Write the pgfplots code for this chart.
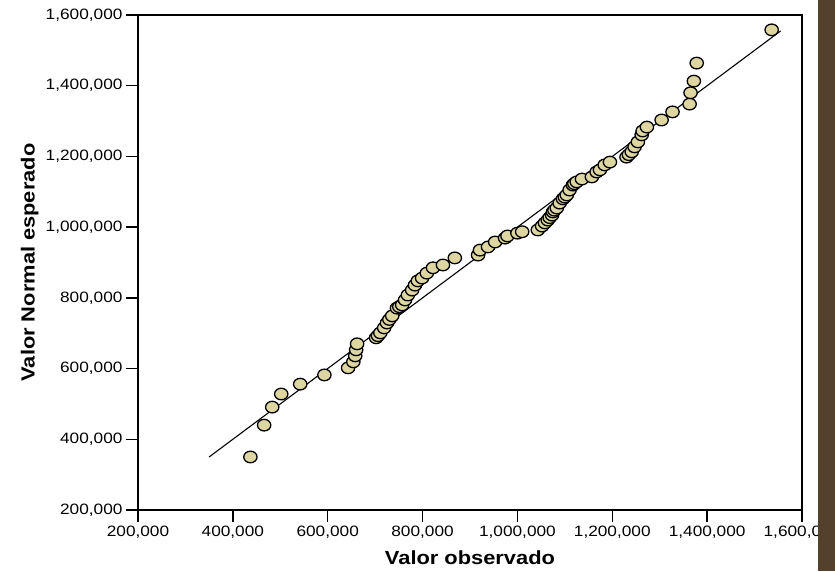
\documentclass[border=0pt]{standalone}
\usepackage{fontspec}
\setmainfont{Liberation Sans}[FakeStretch=1.15]
\usepackage{pgfplots}
\pgfplotsset{compat=1.18}
\definecolor{markfill}{RGB}{221,214,160}
\definecolor{sidebar}{RGB}{84,65,43}

% valor observado / valor normal esperado
\pgfplotstableread{
x y
437000 350000
466000 440000
483000 491000
502000 528000
542000 556000
593000 582000
643000 602000
654000 619000
658000 636000
660000 653000
662000 670000
702000 687000
706000 693000
711000 701000
719000 715000
725000 729000
730000 739000
736000 749000
746000 771000
751000 775000
757000 780000
763000 794000
769000 808000
778000 822000
784000 836000
790000 848000
799000 856000
809000 870000
822000 885000
843000 893000
868000 913000
917000 921000
921000 935000
938000 944000
953000 958000
974000 969000
979000 975000
1000000 983000
1010000 987000
1043000 992000
1052000 1003000
1058000 1012000
1064000 1020000
1068000 1027000
1073000 1034000
1075000 1043000
1078000 1048000
1083000 1054000
1089000 1068000
1096000 1080000
1100000 1085000
1104000 1091000
1110000 1105000
1117000 1119000
1120000 1123000
1125000 1128000
1136000 1136000
1157000 1142000
1167000 1156000
1174000 1162000
1184000 1176000
1195000 1184000
1230000 1198000
1235000 1205000
1241000 1213000
1247000 1227000
1254000 1241000
1262000 1261000
1264000 1272000
1273000 1283000
1304000 1303000
1327000 1326000
1363000 1348000
1365000 1380000
1372000 1413000
1378000 1464000
1536000 1558000
}\qqdata

\begin{document}
\begin{tikzpicture}
\path[use as bounding box] (-138pt,-61pt) rectangle (697pt,510pt);
\begin{axis}[
    at={(0,0)}, anchor=south west,
    scale only axis,
    width=664pt, height=495pt,
    xmin=200000, xmax=1600000,
    ymin=200000, ymax=1600000,
    xtick={200000,400000,600000,800000,1000000,1200000,1400000,1600000},
    ytick={200000,400000,600000,800000,1000000,1200000,1400000,1600000},
    scaled ticks=false,
    /pgf/number format/fixed,
    /pgf/number format/1000 sep={,},
    /pgf/number format/assume math mode=true,
    tick align=outside,
    major tick length=12pt,
    xtick pos=bottom, ytick pos=left,
    axis line style={line width=1.4pt},
    tick style={line width=1.4pt, black},
    ticklabel style={font=\fontsize{15}{18}\selectfont},
    xlabel={Valor observado},
    ylabel={Valor Normal esperado},
    label style={font=\bfseries\fontsize{19}{23}\selectfont},
    xlabel style={at={(axis description cs:0.5,-0.097)}, anchor=center},
    ylabel style={at={(axis description cs:-0.163,0.5)}, anchor=center},
]
    \addplot[black, line width=1.1pt] coordinates {(350000,350000) (1555000,1555000)};
    \addplot[only marks, mark=*, mark size=5.8pt,
        mark options={xscale=1.15, fill=markfill, draw=black, line width=1.3pt}]
        table[x=x, y=y] {\qqdata};
\end{axis}
\fill[sidebar] (680pt,-61pt) rectangle (697pt,510pt);
\end{tikzpicture}
\end{document}
